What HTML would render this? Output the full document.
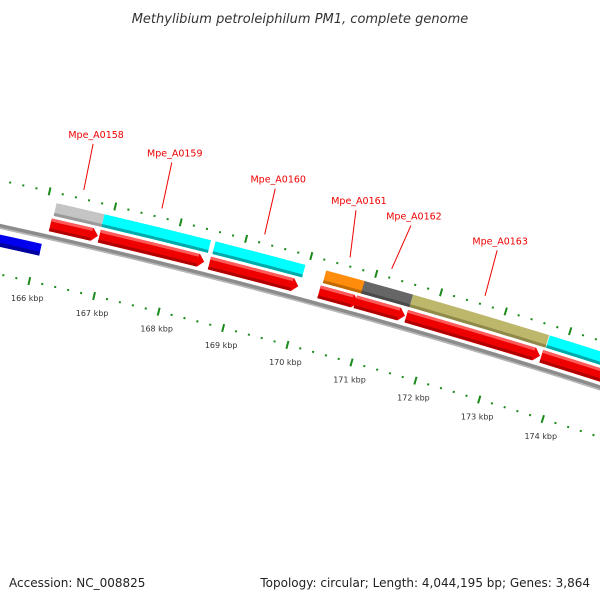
<!DOCTYPE html>
<html><head><meta charset="utf-8"><style>
html,body{margin:0;padding:0;background:#fff;}
svg{display:block;}
</style></head><body>
<svg id="chart" width="600" height="600" viewBox="0 0 600 600">
<text x="300" y="23" text-anchor="middle" font-family="DejaVu Sans, sans-serif" font-size="13" font-style="italic" fill="#333">Methylibium petroleiphilum PM1, complete genome</text>
<text x="9" y="587" font-family="DejaVu Sans, sans-serif" font-size="12" fill="#222">Accession: NC_008825</text>
<text x="590" y="587" text-anchor="end" font-family="DejaVu Sans, sans-serif" font-size="12" fill="#222">Topology: circular; Length: 4,044,195 bp; Genes: 3,864</text>
<g id="layer"></g>
</svg>
<script>
// data (kbp positions)
const geneStarts = [166.12, 166.87, 168.56, 170.25, 170.81, 171.60, 173.70];
const geneEnds   = [166.85, 168.48, 169.93, 170.86, 171.58, 173.68, 175.60];
const cogStarts  = [166.14, 166.87, 168.57, 170.27, 170.86, 171.61, 173.73];
const cogEnds    = [166.87, 168.50, 169.95, 170.87, 171.61, 173.72, 175.60];
const cogColors  = ['#c4c4c4', '#00ffff', '#00ffff', '#ff8c0a', '#666666', '#bdb76b', '#00ffff'];
const cogShades  = ['#9a9a9a', '#00aaaa', '#00aaaa', '#c06a00', '#4a4a4a', '#8f8a4a', '#00aaaa'];
const revStarts  = [163.5];
const revEnds    = [166.06];
const labelNames = ['Mpe_A0158', 'Mpe_A0159', 'Mpe_A0160', 'Mpe_A0161', 'Mpe_A0162', 'Mpe_A0163'];
const labelGeneMid = [166.49, 167.68, 169.25, 170.56, 171.20, 172.64];
const labelAnchor  = [166.47, 167.66, 169.23, 170.46, 171.30, 172.62];
const tickLabels = [166, 167, 168, 169, 170, 171, 172, 173, 174];

const CX = -1439, CY = 6770;
function ang(k){ return (12.75 + (k - 166) * 0.5725) * Math.PI / 180; }
function pt(r, k){ const a = ang(k); return [CX + r * Math.sin(a), CY - r * Math.cos(a)]; }
const NS = 'http://www.w3.org/2000/svg';
const layer = document.getElementById('layer');
function mk(tag, attrs){ const e = document.createElementNS(NS, tag); for (const k in attrs) e.setAttribute(k, attrs[k]); layer.appendChild(e); return e; }
function ps(arr){ return arr.map(p => p[0].toFixed(2) + ',' + p[1].toFixed(2)).join(' '); }
function band(r1, r2, k1, k2){
  const pts = [];
  const n = Math.max(2, Math.ceil((k2 - k1) * 2));
  for (let i = 0; i <= n; i++) pts.push(pt(r2, k1 + (k2 - k1) * i / n));
  for (let i = n; i >= 0; i--) pts.push(pt(r1, k1 + (k2 - k1) * i / n));
  return ps(pts);
}

// backbone
let e = mk('polygon', {points: band(6697.5, 6702.5, 163, 177.5), fill: '#8c8c8c'});


e = mk('polygon', {points: band(6697.5, 6699, 163, 177.5), fill: '#b8b8b8'});



// ticks
function tickRing(r, name){
  for (let i = 0; i <= 70; i++) {
    const k = 163 + i * 0.2;
    const major = i % 5 === 0;
    const a = pt(r - (major ? 4 : 1), k), b = pt(r + (major ? 4 : 1), k);
    const t = mk('line', {x1: a[0], y1: a[1], x2: b[0], y2: b[1], stroke: '#1a8a1a', 'stroke-width': 2});
    
    
  }
}
tickRing(6745, 'outer');
tickRing(6653, 'inner');
tickLabels.forEach(k => {
  const p = pt(6653, k);
  const t = mk('text', {x: p[0] - 2, y: p[1] + 20, 'text-anchor': 'middle', 'font-family': 'DejaVu Sans, sans-serif', 'font-size': 8, fill: '#333'});
  t.textContent = k + ' kbp';
  
  
});

// reverse-strand genes
revStarts.forEach((s, i) => {
  let g = mk('polygon', {points: band(6680, 6692, s, revEnds[i]), fill: '#0000ee'});
  
  
  g = mk('polygon', {points: band(6680, 6684, s, revEnds[i]), fill: '#0000a0'});
  
  
});

// forward genes (arrows)
geneStarts.forEach((s, i) => {
  const en = geneEnds[i];
  const r1 = 6706, r2 = 6719, rm = (r1 + r2) / 2;
  const head = 6 / 68;
  const hk = en - head;
  const pts = [pt(r2, s), pt(r2, hk), pt(rm, en), pt(r1, hk), pt(r1, s)];
  let g = mk('polygon', {points: ps(pts), fill: '#ee0000'});
  
  
  g = mk('polygon', {points: band(r2 - 3, r2, s, hk - 0.01), fill: '#ff5a5a'});
  
  
  g = mk('polygon', {points: band(r1, r1 + 3, s, hk - 0.01), fill: '#b00000'});
  
  
});

// COG bars
cogStarts.forEach((s, i) => {
  let g = mk('polygon', {points: band(6722, 6735, s, cogEnds[i]), fill: cogColors[i]});
  
  
  g = mk('polygon', {points: band(6722, 6725, s, cogEnds[i]), fill: cogShades[i]});
  
  
});

// gene labels
labelNames.forEach((n, i) => {
  const a = pt(6754, labelGeneMid[i]), b = pt(6801, labelAnchor[i]);
  const l = mk('line', {x1: a[0], y1: a[1], x2: b[0], y2: b[1], stroke: '#ee0000', 'stroke-width': 1});
  
  
  const t = mk('text', {x: b[0] + 3, y: b[1] - 6, 'text-anchor': 'middle', 'font-family': 'DejaVu Sans, sans-serif', 'font-size': 9.5, fill: '#ee0000'});
  t.textContent = n;
  
  
});
</script>
</body></html>
